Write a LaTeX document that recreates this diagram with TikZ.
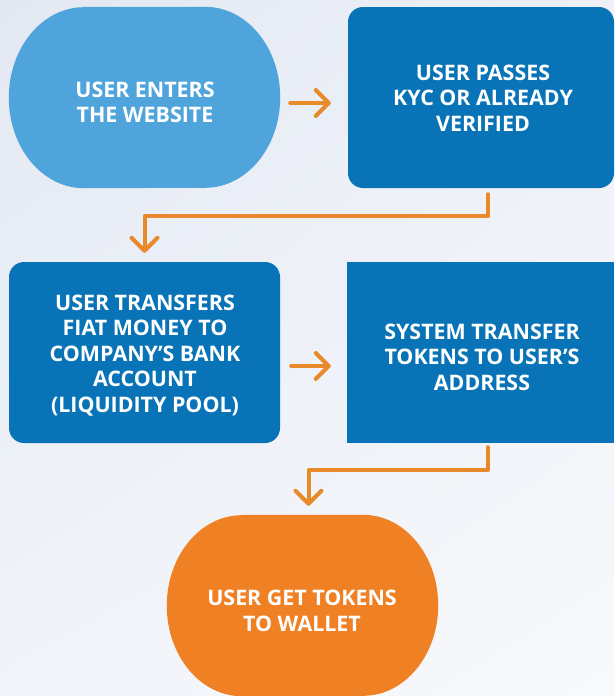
\documentclass[tikz,border=0pt]{standalone}
\usepackage{fontspec}
\setmainfont{Open Sans}
\usetikzlibrary{arrows.meta,calc,shadings}

\definecolor{bgUL}{HTML}{E3E8F2}
\definecolor{bgUR}{HTML}{EDF0F7}
\definecolor{bgLL}{HTML}{F1F4F9}
\definecolor{bgLR}{HTML}{F8F9FC}
\definecolor{skyblue}{HTML}{4FA4DB}
\definecolor{deepblue}{HTML}{0873B7}
\definecolor{tangerine}{HTML}{F08024}
\definecolor{flowline}{HTML}{E8892A}

% filled oval with elliptical ends, sized by an (invisible) node
\newcommand\ovalfill[2]{%
  \fill[#2] ([xshift=75pt]#1.north west) -- ([xshift=-75pt]#1.north east)
    arc[start angle=90,end angle=-90,x radius=75pt,y radius=90.5pt]
    -- ([xshift=75pt]#1.south west)
    arc[start angle=270,end angle=90,x radius=75pt,y radius=90.5pt] -- cycle;}

\begin{document}
\begin{tikzpicture}[x=1pt,y=-1pt,
  ovalnode/.style={minimum width=271pt,minimum height=181pt,inner sep=0pt},
  stepbox/.style={fill=deepblue,rounded corners=15pt,minimum width=#1,minimum height=181pt,inner sep=0pt},
  squarebox/.style={fill=deepblue,minimum width=#1,minimum height=181pt,inner sep=0pt},
  caption/.style={text=white,align=center,inner sep=0pt,
    font=\bfseries\fontsize{21.4}{25.5}\selectfont},
  flow/.style={draw=flowline,line width=4pt,line cap=round,line join=round,
    -{Straight Barb[length=13pt,width=26pt,line cap=round,line join=round]}}]

% background
\useasboundingbox (0,0) rectangle (614,696);
\shade[upper left=bgUL,upper right=bgUR,lower left=bgLL,lower right=bgLR]
  (0,0) rectangle (614,696);

% shapes
\node[ovalnode] (s1) at (144.5,97.5) {};
\ovalfill{s1}{skyblue}
\node[stepbox=266pt] (b2) at (481,97.5) {};
\node[stepbox=271pt] (b3) at (144.5,352.5) {};
\node[squarebox=267pt] (b4) at (480.5,352.5) {};
\node[ovalnode] (s5) at (302.5,605.5) {};
\ovalfill{s5}{tangerine}

% captions
\node[caption] (t1) at (145,102.5) {USER ENTERS\\THE WEBSITE};
\node[caption] (t2) at (483,98) {USER PASSES\\KYC OR ALREADY\\VERIFIED};
\node[caption] (t3) at (145,355.5) {USER TRANSFERS\\FIAT MONEY TO\\COMPANY’S BANK\\ACCOUNT\\(LIQUIDITY POOL)};
\node[caption] (t4) at (482,357) {SYSTEM TRANSFER\\TOKENS TO USER’S\\ADDRESS};
\node[caption] (t5) at (302,611) {USER GET TOKENS\\TO WALLET};

% connectors
\draw[flow] ($(s1.east)+(10,5.5)$) -- ($(b2.west)+(-17,5.5)$);
\draw[flow] ($(b2.south)+(7,6)$) -- ++(0,22) -| ($(b3.north)+(0,-9)$);
\draw[flow] ($(b3.east)+(11,13.5)$) -- ($(b4.west)+(-16,13.5)$);
\draw[flow] ($(b4.south)+(7,4)$) -- ++(0,23) -| ($(s5.north)+(6,-9)$);
\end{tikzpicture}
\end{document}
